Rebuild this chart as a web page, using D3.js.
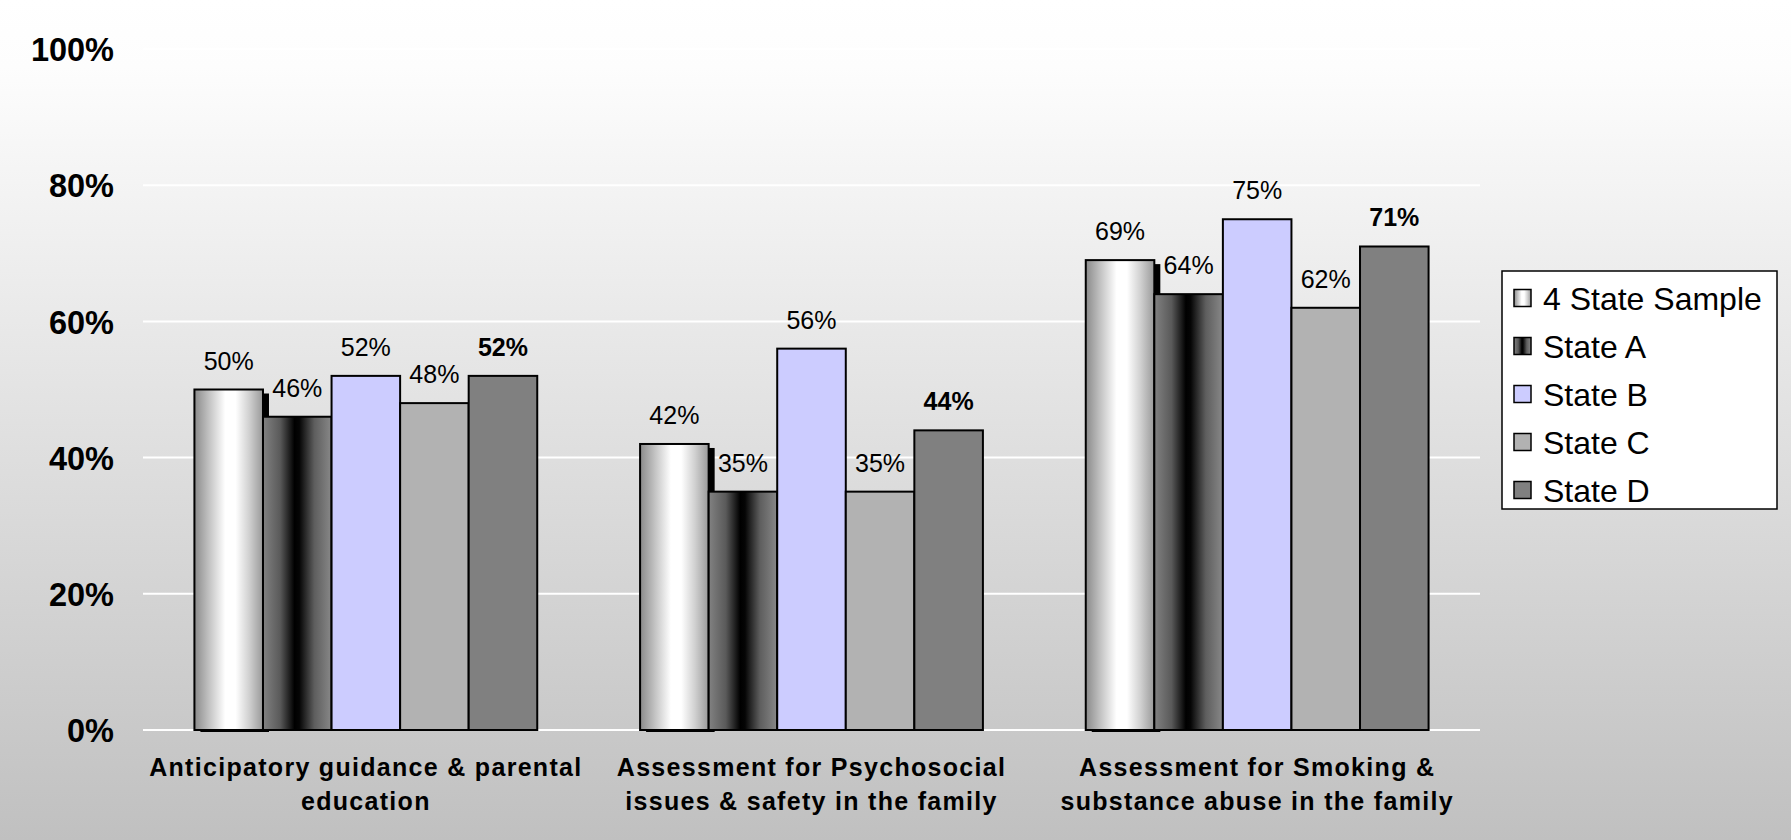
<!DOCTYPE html>
<html><head><meta charset="utf-8">
<script src="https://cdn.jsdelivr.net/npm/d3@7"></script>
<style>html,body{margin:0;padding:0;overflow:hidden;}svg{display:block;}</style>
</head><body>
<svg id="chart" width="1791" height="840"></svg>
<script>
const categories = [
  ["Anticipatory guidance & parental", "education"],
  ["Assessment for Psychosocial", "issues & safety in the family"],
  ["Assessment for Smoking &", "substance abuse in the family"]
];
const seriesNames = ["4 State Sample", "State A", "State B", "State C", "State D"];
const sample4 = [50, 42, 69];
const stateA = [46, 35, 64];
const stateB = [52, 56, 75];
const stateC = [48, 35, 62];
const stateD = [52, 44, 71];
const yTicks = [0, 20, 40, 60, 80, 100];

const seriesValues = [sample4, stateA, stateB, stateC, stateD];
const fills = ["url(#gSample)", "url(#gA)", "#CCCCFF", "#B2B2B2", "#808080"];
const boldLabel = [false, false, false, false, true];

const W = 1791, H = 840;
const svg = d3.select("#chart");
const defs = svg.append("defs");

const bg = defs.append("linearGradient").attr("id", "bg").attr("x1", 0).attr("y1", 0).attr("x2", 0).attr("y2", 1);
bg.append("stop").attr("offset", "0").attr("stop-color", "#ffffff");
bg.append("stop").attr("offset", "0.08").attr("stop-color", "#fdfdfd");
bg.append("stop").attr("offset", "1").attr("stop-color", "#c0c0c0");

const gS = defs.append("linearGradient").attr("id", "gSample").attr("x1", 0).attr("y1", 0).attr("x2", 1).attr("y2", 0);
[[0, "#8a8a8a"], [0.22, "#c4c4c4"], [0.45, "#ffffff"], [0.6, "#ffffff"], [0.8, "#d0d0d0"], [1, "#999999"]]
  .forEach(s => gS.append("stop").attr("offset", s[0]).attr("stop-color", s[1]));
const gA = defs.append("linearGradient").attr("id", "gA").attr("x1", 0).attr("y1", 0).attr("x2", 1).attr("y2", 0);
[[0, "#828282"], [0.25, "#5a5a5a"], [0.46, "#000000"], [0.53, "#050505"], [0.75, "#5e5e5e"], [1, "#888888"]]
  .forEach(s => gA.append("stop").attr("offset", s[0]).attr("stop-color", s[1]));

svg.append("rect").attr("width", W).attr("height", H).attr("fill", "url(#bg)");

const left = 143, right = 1480, y0px = 730, y100px = 49;
const x0 = d3.scaleBand().domain(d3.range(categories.length)).range([left, right]).padding(0);
const groupW = x0.bandwidth() * 300 / 390;
const x1 = d3.scaleBand().domain(d3.range(seriesNames.length)).range([0, groupW]).padding(0);
const y = d3.scaleLinear().domain([0, 100]).range([y0px, y100px]);

// gridlines
svg.append("g").selectAll("line").data(yTicks).join("line")
  .attr("x1", left).attr("x2", right)
  .attr("y1", d => y(d)).attr("y2", d => y(d))
  .attr("stroke", "#ffffff").attr("stroke-width", 2);

// y axis labels
const yAxis = d3.axisLeft(y).tickValues(yTicks).tickFormat(d => d + "%").tickSize(0).tickPadding(0);
const ya = svg.append("g").attr("transform", "translate(114,0)").call(yAxis);
ya.select(".domain").remove();
ya.selectAll("text").attr("font-family", "Liberation Sans, Arial, sans-serif")
  .attr("font-size", 32.5).attr("font-weight", "bold").attr("fill", "#000").attr("dy", "0.36em");

const off = (x0.bandwidth() - groupW) / 2;
const groups = svg.append("g").selectAll("g").data(categories).join("g")
  .attr("transform", (d, i) => `translate(${x0(i) + off},0)`);

groups.each(function (cat, ci) {
  const g = d3.select(this);
  const data = seriesValues.map((vals, si) => ({ si, v: vals[ci] }));
  data.forEach(d => {
    if (d.si === 0) {
      g.append("rect").attr("x", x1(d.si) + 6).attr("y", y(d.v) + 4)
        .attr("width", x1.bandwidth()).attr("height", y(0) - y(d.v) - 2)
        .attr("fill", "#000");
    }
    g.append("rect").attr("x", x1(d.si)).attr("y", y(d.v))
      .attr("width", x1.bandwidth()).attr("height", y(0) - y(d.v))
      .attr("fill", fills[d.si]).attr("stroke", "#000").attr("stroke-width", 2);
  });
  data.forEach(d => {
    g.append("text").attr("x", x1(d.si) + x1.bandwidth() / 2).attr("y", y(d.v) - 20)
      .attr("text-anchor", "middle").attr("font-family", "Liberation Sans, Arial, sans-serif")
      .attr("font-size", 25).attr("font-weight", boldLabel[d.si] ? "bold" : "normal")
      .attr("fill", "#000").text(d.v + "%");
  });
  const cx = groupW / 2;
  cat.forEach((line, li) => {
    g.append("text").attr("x", cx).attr("y", 776 + li * 34)
      .attr("text-anchor", "middle").attr("font-family", "Liberation Sans, Arial, sans-serif")
      .attr("font-size", 25).attr("font-weight", "bold").attr("letter-spacing", 1.3)
      .attr("fill", "#000").text(line);
  });
});

// legend
const lg = svg.append("g");
lg.append("rect").attr("x", 1502).attr("y", 271).attr("width", 275).attr("height", 238)
  .attr("fill", "#fff").attr("stroke", "#000").attr("stroke-width", 1.5);
seriesNames.forEach((name, i) => {
  const cy = 298 + i * 48;
  lg.append("rect").attr("x", 1514).attr("y", cy - 8.5).attr("width", 17).attr("height", 17)
    .attr("fill", fills[i]).attr("stroke", "#000").attr("stroke-width", 1.5);
  lg.append("text").attr("x", 1543).attr("y", cy).attr("dy", "0.36em")
    .attr("font-family", "Liberation Sans, Arial, sans-serif").attr("font-size", 32)
    .attr("fill", "#000").text(name);
});
</script>
</body></html>
